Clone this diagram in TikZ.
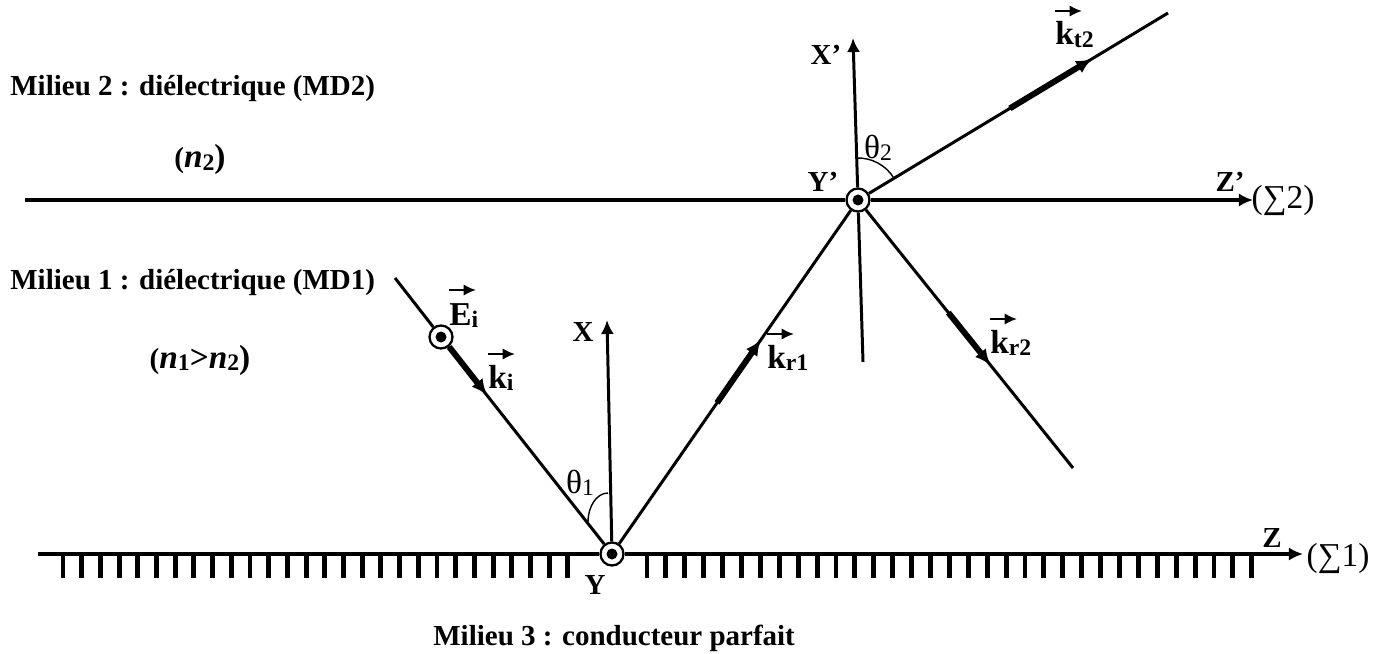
\documentclass[tikz,border=0pt]{standalone}
\usepackage{fontspec}
\setmainfont{Liberation Serif}
\usetikzlibrary{arrows.meta,calc}

\tikzset{
  ray/.style={line width=1.7pt},
  axis/.style={line width=1.7pt,-{Latex[length=8pt,width=7.5pt]}},
  wave/.style={line width=3.4pt,-{Latex[length=9pt,width=8pt]}},
  vecarr/.style={line width=1.6pt,-{Latex[length=7pt,width=6.5pt]}},
  tick/.style={line width=2.8pt},
  ocirc/.style={circle,draw,fill=white,line width=1.3pt,minimum size=0.46cm,inner sep=0pt},
  lab/.style={font=\fontsize{16.5}{20}\selectfont\bfseries,inner sep=0pt},
  vlab/.style={font=\fontsize{19}{20}\selectfont\bfseries,inner sep=0pt,anchor=base west},
  ang/.style={font=\fontsize{19}{20}\selectfont,inner sep=0pt},
}
\newcommand\sbs[1]{\raisebox{-1.5pt}{\fontsize{13.5}{13}\selectfont #1}}

\begin{document}
\begin{tikzpicture}[x=0.02cm,y=0.02cm]
\useasboundingbox (0,0) rectangle (1388,653);

% points of incidence
\node[ocirc] (Y) at (612,99) {};
\node[ocirc] (Yp) at (858,453) {};
\node[ocirc] (Ei) at (441,316) {};
\coordinate (I0) at (395,375);
\coordinate (R2) at (1073,185);
\coordinate (T2) at (1168,640);
\coordinate (Xt) at (607,333);
\coordinate (Xpb) at (863,291);
\coordinate (Xpt) at (853,615);
\coordinate (S1a) at (38,99);
\coordinate (S1b) at (1303,99);
\coordinate (S2a) at (25,453);
\coordinate (S2b) at (1253,453);

% interfaces
\draw[line width=2.3pt] (S1a) -- (Y);
\draw[axis,line width=2.3pt] (Y) -- (S1b);
\foreach \x in {63,81.7,...,569} \draw[tick] (\x,98) -- (\x,75);
\foreach \x in {647,665.9,...,1254} \draw[tick] (\x,98) -- (\x,75);
\draw[line width=2pt] (S2a) -- (Yp);
\draw[axis,line width=2pt] (Yp) -- (S2b);

% axes
\draw[axis] (Y) -- (Xt);
\draw[ray] (Xpb) -- (Yp);
\draw[axis] (Yp) -- (Xpt);

% rays
\draw[ray] (I0) -- (Ei) -- (Y);
\draw[wave] ($(I0)!0.25!(Y)$) -- ($(I0)!0.424!(Y)$);
\draw[ray] (Y) -- (Yp);
\draw[wave] ($(Y)!0.427!(Yp)$) -- ($(Y)!0.605!(Yp)$);
\draw[ray] (Yp) -- (R2);
\draw[wave] ($(Yp)!0.42!(R2)$) -- ($(Yp)!0.616!(R2)$);
\draw[ray] (Yp) -- (T2);
\draw[wave] ($(Yp)!0.49!(T2)$) -- ($(Yp)!0.755!(T2)$);

\fill (Y) circle (5.5);
\fill (Yp) circle (5.5);
\fill (Ei) circle (5.5);

% angles
\draw[line width=0.8pt] (608,160) arc[start angle=90,end angle=180,x radius=20,y radius=29];
\draw[line width=0.8pt] ($(Yp)+(31:42)$) arc[start angle=31,end angle=92,radius=42];
\node[ang] (th1) at (580,170) {θ\sbs{1}};
\node[ang] (th2) at (878,505) {θ\sbs{2}};

% media
\node[lab,anchor=base west] (m2) at (10,557) {Milieu 2 : diélectrique (MD2)};
\node[lab,anchor=base] (n2) at (200,485) {(\fontsize{19}{20}\selectfont\textit{n}\sbs{2})};
\node[lab,anchor=base west] (m1) at (10,363) {Milieu 1 : diélectrique (MD1)};
\node[lab,anchor=base] (n12) at (200,285) {(\fontsize{19}{20}\selectfont\textit{n}\sbs{1}>\textit{n}\sbs{2})};
\node[lab,anchor=base west] (m3) at (433,8) {Milieu 3 : conducteur parfait};

% axis labels
\node[lab] (lX) at (583,321) {X};
\node[lab] (lY) at (595,68) {Y};
\node[lab] (lZ) at (1272,115) {Z};
\node[lab] (lXp) at (826,598) {X’};
\node[lab] (lYp) at (823,471) {Y’};
\node[lab] (lZp) at (1230,471) {Z’};
\node[ang] (s1) at (1338,95) {(∑1)};
\node[ang] (s2) at (1283,453) {(∑2)};

% vectors
\node[vlab] (lEi) at (449,328) {E\sbs{i}};
\draw[vecarr] ($(lEi.base west)+(0,35)$) -- ++(27,0);
\node[vlab] (lki) at (488,265) {k\sbs{i}};
\draw[vecarr] ($(lki.base west)+(0,34)$) -- ++(27,0);
\node[vlab] (lkr1) at (767,285) {k\sbs{r1}};
\draw[vecarr] ($(lkr1.base west)+(0,34)$) -- ++(27,0);
\node[vlab] (lkr2) at (990,300) {k\sbs{r2}};
\draw[vecarr] ($(lkr2.base west)+(0,34)$) -- ++(27,0);
\node[vlab] (lkt2) at (1055,608) {k\sbs{t2}};
\draw[vecarr] ($(lkt2.base west)+(0,34)$) -- ++(27,0);
\end{tikzpicture}
\end{document}
